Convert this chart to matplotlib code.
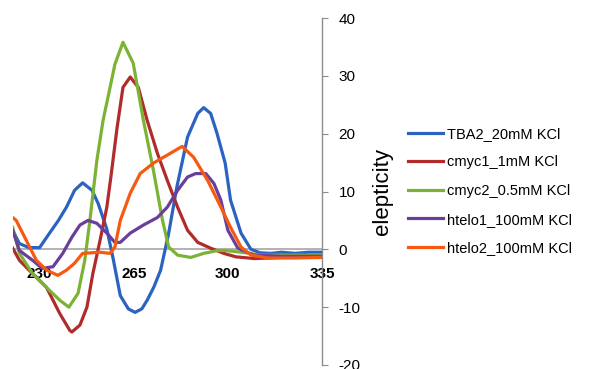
import matplotlib
matplotlib.use("Agg")
import matplotlib.pyplot as plt

# CD spectra (wavelength nm, ellipticity)
wl_tba2 = [220, 222.5, 226, 230, 233.7, 237, 240, 243, 246, 249.5, 251.8, 255, 257.3, 260, 263,
           265.5, 268, 270, 272.5, 275, 278, 281, 285, 288.8, 291, 293.6, 296, 299, 301, 304.9,
           308.6, 312, 316, 320, 325, 330, 335]
cd_tba2 = [3.3, 1.0, 0.3, 0.3, 2.8, 5.0, 7.3, 10.2, 11.5, 10.2, 7.9, 3.5, -1.5, -8.0, -10.3,
           -10.9, -10.3, -8.8, -6.5, -3.6, 2.8, 10.7, 19.4, 23.5, 24.5, 23.5, 20.0, 14.9, 8.5, 2.8,
           0.0, -0.6, -0.7, -0.5, -0.7, -0.5, -0.5]

wl_cmyc1 = [220, 222.5, 227.4, 232.6, 237.5, 241.2, 242, 245, 247.6, 249.8, 252.5, 255, 256.5, 258.8,
            261, 263.7, 266.7, 270, 273.8, 277.5, 281.3, 285, 288.8, 293.6, 298.5, 303, 310, 320, 335]
cd_cmyc1 = [0.2, -1.9, -4.2, -6.6, -11.1, -14.0, -14.3, -13.1, -10.0, -4.2, 1.6, 7.3, 12.5, 21.0,
            28.0, 29.8, 28.0, 22.3, 16.6, 11.9, 7.3, 3.3, 1.2, 0.2, -0.7, -1.3, -1.6, -1.4, -1.3]

wl_cmyc2 = [220, 222.5, 227.4, 233.7, 237.5, 240.9, 244.3, 246.8, 248.7, 251.3, 253.6, 256.2, 258,
            261, 264.8, 268.6, 272.3, 275.7, 278, 281.3, 286.2, 291, 296.2, 299, 305, 312, 320, 335]
cd_cmyc2 = [3.8, -0.7, -4.2, -7.1, -8.8, -10.0, -7.6, -1.9, 5.0, 15.4, 22.3, 28.0, 32.0,
            35.8, 32.2, 22.3, 13.7, 5.0, 0.4, -1.0, -1.4, -0.7, -0.2, -0.2, -0.5, -1.0, -1.0, -1.0]

wl_htelo1 = [220, 222.5, 227.4, 231, 235, 238.6, 242, 245, 248, 251.3, 255, 258, 260, 263.7, 268.6,
             273.8, 277.5, 281.3, 285, 288, 291.8, 294.8, 297.4, 300, 303.7, 309.7, 320, 335]
cd_htelo1 = [3.3, -0.2, -1.9, -3.3, -3.0, -0.7, 2.1, 4.2, 5.0, 4.5, 2.8, 1.2, 1.2, 2.8, 4.2,
             5.5, 7.3, 10.2, 12.5, 13.1, 13.1, 11.4, 8.5, 3.3, 0.2, -1.0, -1.2, -1.2]

wl_htelo2 = [220, 221.3, 225, 228.8, 232.6, 236.8, 240, 243, 246, 252.5, 256.2, 258, 260, 263.7,
             267.4, 272.3, 277.5, 283, 287.3, 292.5, 297.4, 301, 304.9, 308.6, 315, 325, 335]
cd_htelo2 = [5.5, 5.0, 1.6, -1.9, -3.6, -4.5, -3.6, -2.4, -0.7, -0.5, -0.7, 0.4, 5.0, 9.7,
             13.1, 14.9, 16.3, 17.8, 15.9, 11.9, 7.3, 3.8, 0.4, -1.0, -1.5, -1.5, -1.4]

labels = ["TBA2_20mM KCl", "cmyc1_1mM KCl", "cmyc2_0.5mM KCl", "htelo1_100mM KCl", "htelo2_100mM KCl"]
colors = ["#2B63C0", "#B22B2B", "#7CB334", "#6A3F9A", "#F65A10"]
series = [(wl_tba2, cd_tba2), (wl_cmyc1, cd_cmyc1), (wl_cmyc2, cd_cmyc2),
          (wl_htelo1, cd_htelo1), (wl_htelo2, cd_htelo2)]
x_ticks = [230, 265, 300, 335]
y_ticks = [-20, -10, 0, 10, 20, 30, 40]

plt.rcParams['font.family'] = ['Liberation Sans', 'DejaVu Sans']
plt.rcParams['axes.unicode_minus'] = False

fig = plt.figure(figsize=(5.9, 3.69), dpi=100)
ax = fig.add_axes([12.7/590, 4/369, (322-12.7)/590, (365-18)/369])

for (x, y), lab, c in zip(series, labels, colors):
    ax.plot(x, y, color=c, lw=2.3, label=lab, zorder=3, solid_joinstyle='round')

ax.set_xlim(220, 335)
ax.set_ylim(-20, 40)

# x axis sits on y=0, y axis on the right edge
ax.spines['top'].set_visible(False)
ax.spines['left'].set_visible(False)
ax.spines['bottom'].set_position(('data', 0))
ax.spines['bottom'].set_color('#A6A6A6')
ax.spines['bottom'].set_linewidth(1.2)
ax.spines['bottom'].set_zorder(1)
ax.spines['right'].set_color('#8C8C8C')
ax.spines['right'].set_linewidth(1.0)

ax.set_xticks(x_ticks)
ax.tick_params(axis='x', length=0, pad=13, labelsize=11)
for t in ax.get_xticklabels():
    t.set_fontweight('bold')

ax.yaxis.tick_right()
ax.set_yticks(y_ticks)
ax.tick_params(axis='y', direction='out', length=4, color='#8C8C8C', pad=8, labelsize=11)

fig.text(382/590, 1 - 191/369, "elepticity", rotation=90, ha='center', va='center', fontsize=16)

ax.legend(loc='center left', bbox_to_anchor=(408/590, 1 - 191/369), bbox_transform=fig.transFigure,
          frameon=False, fontsize=10.5, handlelength=2.4, handletextpad=0.3, labelspacing=1.0,
          borderpad=0, borderaxespad=0)

fig.savefig("out.png", dpi=100)
plt.close(fig)
